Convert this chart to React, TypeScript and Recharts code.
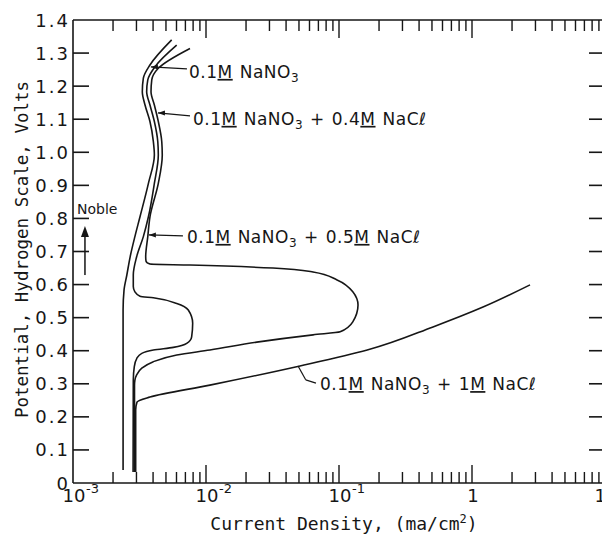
import React from "react";
import { LineChart, Line, XAxis, YAxis, ReferenceLine, ReferenceDot } from "recharts";

// Anodic polarization of the alloy in nitrate / chloride solutions.
// Each point: [current density (ma/cm²), potential (V, hydrogen scale)], read bottom to top.
const nitrateOnly: [number, number][] = [
  [0.00238, 0.039], [0.00238, 0.523], [0.00242, 0.584], [0.00254, 0.629],
  [0.00269, 0.684], [0.00292, 0.745], [0.00319, 0.805], [0.00369, 0.906],
  [0.00409, 0.992], [0.00402, 1.032], [0.00379, 1.093], [0.00348, 1.143],
  [0.00332, 1.183], [0.00338, 1.224], [0.00379, 1.264], [0.00552, 1.34],
];

const chloride04: [number, number][] = [
  [0.00283, 0.033], [0.00284, 0.311], [0.00289, 0.352], [0.00302, 0.377],
  [0.00329, 0.392], [0.00402, 0.402], [0.00568, 0.41], [0.00716, 0.422],
  [0.0078, 0.442], [0.00794, 0.483], [0.00736, 0.523], [0.00603, 0.543],
  [0.00402, 0.56], [0.00319, 0.565], [0.00292, 0.578], [0.00284, 0.594],
  [0.00284, 0.629], [0.00301, 0.684], [0.00338, 0.745], [0.00369, 0.805],
  [0.00409, 0.906], [0.00438, 0.992], [0.00434, 1.032], [0.00409, 1.093],
  [0.00379, 1.143], [0.00358, 1.183], [0.00365, 1.219], [0.00414, 1.259],
  [0.00602, 1.324],
];

const chloride05: [number, number][] = [
  [0.0029, 0.033], [0.0029, 0.295], [0.00292, 0.311], [0.00301, 0.327],
  [0.00329, 0.347], [0.00402, 0.367], [0.00603, 0.387], [0.0107, 0.402],
  [0.0241, 0.426], [0.0638, 0.448], [0.102, 0.457], [0.127, 0.487],
  [0.139, 0.538], [0.127, 0.578], [0.0967, 0.614], [0.0638, 0.638],
  [0.0319, 0.65], [0.00758, 0.659], [0.00379, 0.662], [0.00354, 0.671],
  [0.00352, 0.684], [0.00365, 0.745], [0.00379, 0.805], [0.00438, 0.906],
  [0.00469, 0.992], [0.00465, 1.032], [0.00438, 1.093], [0.00409, 1.143],
  [0.00386, 1.183], [0.00391, 1.219], [0.00438, 1.254], [0.00758, 1.314],
];

const chloride10: [number, number][] = [
  [0.00296, 0.033], [0.00296, 0.221], [0.00303, 0.245], [0.00379, 0.26],
  [0.0107, 0.296], [0.0509, 0.354], [0.163, 0.402], [0.509, 0.472],
  [1.21, 0.532], [2.73, 0.599],
];

// axis ticks
const decadeTicks = [0.001, 0.01, 0.1, 1, 10];
const decadeLabels: [string, string][] = [["10", "-3"], ["10", "-2"], ["10", "-1"], ["1", ""], ["10", ""]];
const minorTicks = decadeTicks.slice(0, -1).flatMap((d) =>
  [2, 3, 4, 5, 6, 7, 8, 9].map((m) => Number((m * d).toPrecision(3)))
);
const potentialTicks = [0, 0.1, 0.2, 0.3, 0.4, 0.5, 0.6, 0.7, 0.8, 0.9, 1.0, 1.1, 1.2, 1.3, 1.4];

// curve labels: NaCl molarity (null = plain nitrate), text origin, leader line (curve end first)
const curveLabels: { nacl: string | null; at: [number, number]; leader: [number, number][] }[] = [
  { nacl: null, at: [0.00745, 1.225], leader: [[0.00385, 1.258], [0.00719, 1.252]] },
  { nacl: "0.4", at: [0.00798, 1.083], leader: [[0.00435, 1.119], [0.00758, 1.11]] },
  { nacl: "0.5", at: [0.00719, 0.726], leader: [[0.00372, 0.75], [0.00671, 0.747]] },
  { nacl: "1", at: [0.072, 0.281], leader: [[0.0492, 0.354], [0.0562, 0.312], [0.0671, 0.302]] },
];

const INK = "#161616";
const SANS = "'DejaVu Sans', sans-serif";
const MONO = "'DejaVu Sans Mono', monospace";
const axisStroke = { stroke: INK, strokeWidth: 1.6 };

const X_MIN = 0.001, X_MAX = 10, Y_MIN = 0, Y_MAX = 1.4;
// plot box size in px, used to turn tick lengths into axis units
const PLOT_W = 532, PLOT_H = 463;
const V_PER_PX = (Y_MAX - Y_MIN) / PLOT_H;
const Y_TICK_PX = 16;
const Y_TICK_SPAN = Math.pow(10, Y_TICK_PX / (PLOT_W / 4));

// one marker per current tick: draws its bottom and top inward marks
const currentMarks = [
  ...minorTicks.map((v) => ({ v, len: 11 })),
  ...decadeTicks.slice(1, -1).map((v) => ({ v, len: 18 })),
];

const toPoints = (pairs: [number, number][]) => pairs.map(([i, e]) => ({ i, e }));

// anchored at the inner end of the bottom mark
const CurrentMark = ({ cx, cy, len }: any) => (
  <g fill={INK}>
    <rect x={cx - 0.7} y={cy} width={1.4} height={len} />
    <rect x={cx - 0.7} y={cy + len - PLOT_H} width={1.4} height={len} />
  </g>
);

// anchored at the inner end of the left mark
const PotentialMark = ({ cx, cy }: any) => (
  <g fill={INK}>
    <rect x={cx - Y_TICK_PX} y={cy - 0.8} width={Y_TICK_PX} height={1.6} />
    <rect x={cx - 2 * Y_TICK_PX + PLOT_W} y={cy - 0.8} width={Y_TICK_PX} height={1.6} />
  </g>
);

const DecadeLabel = (props: any) => {
  const { x, y, payload } = props;
  const k = decadeTicks.indexOf(payload.value);
  if (k < 0) return null;
  return (
    <g fontFamily={SANS} fill={INK}>
      <text x={x + 1} y={y + 19} fontSize={18} textAnchor="middle">{decadeLabels[k][0]}</text>
      {decadeLabels[k][1] && <text x={x + 13} y={y + 10} fontSize={13}>{decadeLabels[k][1]}</text>}
    </g>
  );
};

const PotentialLabel = (props: any) => {
  const { x, y, payload } = props;
  const v = payload.value;
  return (
    <text x={x - 3} y={y + 6.5} fontSize={18} letterSpacing={2} textAnchor="end" fontFamily={SANS} fill={INK}>
      {v === 0 ? "0" : v.toFixed(1)}
    </text>
  );
};

const XTitle = (props: any) => {
  const vb = props.viewBox ?? { x: 65, y: 475, width: 532, height: 52 };
  return (
    <text x={vb.x + vb.width / 2 + 5} y={vb.y + 47} fontSize={18} fontFamily={MONO} textAnchor="middle" fill={INK}>
      Current Density, (ma/cm<tspan dy={-7} fontSize={12}>2</tspan><tspan dy={7}>)</tspan>
    </text>
  );
};

const YTitle = (props: any) => {
  const vb = props.viewBox ?? { x: 0, y: 12, width: 65, height: 463 };
  const cx = vb.x + 20;
  const cy = vb.y + vb.height / 2 - 2;
  return (
    <text x={cx} y={cy} transform={`rotate(-90, ${cx}, ${cy})`} fontSize={17.5} fontFamily={MONO} textAnchor="middle" fill={INK}>
      Potential, Hydrogen Scale, Volts
    </text>
  );
};

const Formula = ({ cx, cy, nacl }: { cx: number; cy: number; nacl: string | null }) => (
  <text x={cx} y={cy} fontSize={17} letterSpacing={0.5} fontFamily={SANS} fill={INK}>
    <tspan>0.1</tspan>
    <tspan style={{ textDecoration: "underline" }}>M</tspan>
    <tspan dx={7}>NaNO</tspan>
    <tspan fontSize={12} dy={4}>3</tspan>
    {nacl && (
      <>
        <tspan dx={7} dy={-4}>+</tspan>
        <tspan dx={7}>{nacl}</tspan>
        <tspan style={{ textDecoration: "underline" }}>M</tspan>
        <tspan dx={7}>NaCℓ</tspan>
      </>
    )}
  </text>
);

// "Noble" with its upward arrow, anchored at the arrow tip
const NobleArrow = ({ cx, cy }: any) => (
  <g fill={INK}>
    <path d={`M${cx},${cy} L${cx - 4},${cy + 11} L${cx + 4},${cy + 11} Z`} />
    <rect x={cx - 0.75} y={cy + 10} width={1.5} height={39} />
    <text x={cx - 8} y={cy - 12} fontSize={14} fontFamily={SANS}>Noble</text>
  </g>
);

// small head where a leader touches its curve
const LeftArrowHead = ({ cx, cy }: any) => (
  <path d={`M${cx},${cy} L${cx + 7},${cy - 2.5} L${cx + 7},${cy + 2.5} Z`} fill={INK} />
);

const series = [nitrateOnly, chloride04, chloride05, chloride10];

export default function App() {
  return (
    <div style={{ width: 602, height: 527, overflow: "hidden", background: "#fff" }}>
      <LineChart width={640} height={527} margin={{ top: 11, right: 42, bottom: 0, left: 0 }}>
        <XAxis
          xAxisId="b" dataKey="i" type="number" scale="log" domain={[X_MIN, X_MAX]} allowDataOverflow
          ticks={decadeTicks} interval={0} tick={<DecadeLabel />} tickLine={false} tickSize={0} tickMargin={0}
          height={52} axisLine={axisStroke} label={<XTitle />}
        />
        <XAxis
          xAxisId="t" orientation="top" dataKey="i" type="number" scale="log" domain={[X_MIN, X_MAX]} allowDataOverflow
          tick={false} tickLine={false} height={1} axisLine={axisStroke}
        />
        <YAxis
          yAxisId="l" type="number" domain={[Y_MIN, Y_MAX]} allowDataOverflow ticks={potentialTicks} interval={0}
          tick={<PotentialLabel />} tickLine={false} tickSize={0} tickMargin={0} width={65} axisLine={axisStroke}
          label={<YTitle />}
        />
        <YAxis
          yAxisId="r" orientation="right" type="number" domain={[Y_MIN, Y_MAX]} allowDataOverflow
          tick={false} tickLine={false} width={1} axisLine={axisStroke}
        />
        {series.map((s, idx) => (
          <Line
            key={idx} xAxisId="b" yAxisId="l" data={toPoints(s)} dataKey="e" type="monotoneY"
            stroke={INK} strokeWidth={1.6} dot={false} activeDot={false} isAnimationActive={false}
          />
        ))}
        {currentMarks.map(({ v, len }) => (
          <ReferenceDot
            key={`cm${v}`} xAxisId="b" yAxisId="l" x={v} y={Y_MIN + len * V_PER_PX} r={0} ifOverflow="visible"
            shape={(q: any) => <CurrentMark {...q} len={len} />}
          />
        ))}
        {potentialTicks.slice(1, -1).map((p) => (
          <ReferenceDot
            key={`pm${p}`} xAxisId="b" yAxisId="l" x={X_MIN * Y_TICK_SPAN} y={p} r={0} ifOverflow="visible"
            shape={(q: any) => <PotentialMark {...q} />}
          />
        ))}
        {curveLabels.map((c, idx) =>
          c.leader.slice(1).map((p, j) => (
            <ReferenceLine
              key={`ld${idx}-${j}`} xAxisId="b" yAxisId="l" ifOverflow="visible"
              segment={[{ x: c.leader[j][0], y: c.leader[j][1] }, { x: p[0], y: p[1] }]}
              stroke={INK} strokeWidth={1.2}
            />
          ))
        )}
        {curveLabels.slice(0, 3).map((c, idx) => (
          <ReferenceDot
            key={`ah${idx}`} xAxisId="b" yAxisId="l" x={c.leader[0][0]} y={c.leader[0][1]} r={0} ifOverflow="visible"
            shape={(p: any) => <LeftArrowHead {...p} />}
          />
        ))}
        {curveLabels.map((c, idx) => (
          <ReferenceDot
            key={`lb${idx}`} xAxisId="b" yAxisId="l" x={c.at[0]} y={c.at[1]} r={0} ifOverflow="visible"
            shape={(p: any) => <Formula cx={p.cx} cy={p.cy} nacl={c.nacl} />}
          />
        ))}
        <ReferenceDot xAxisId="b" yAxisId="l" x={0.00123} y={0.777} r={0} ifOverflow="visible" shape={(p: any) => <NobleArrow {...p} />} />
      </LineChart>
    </div>
  );
}
